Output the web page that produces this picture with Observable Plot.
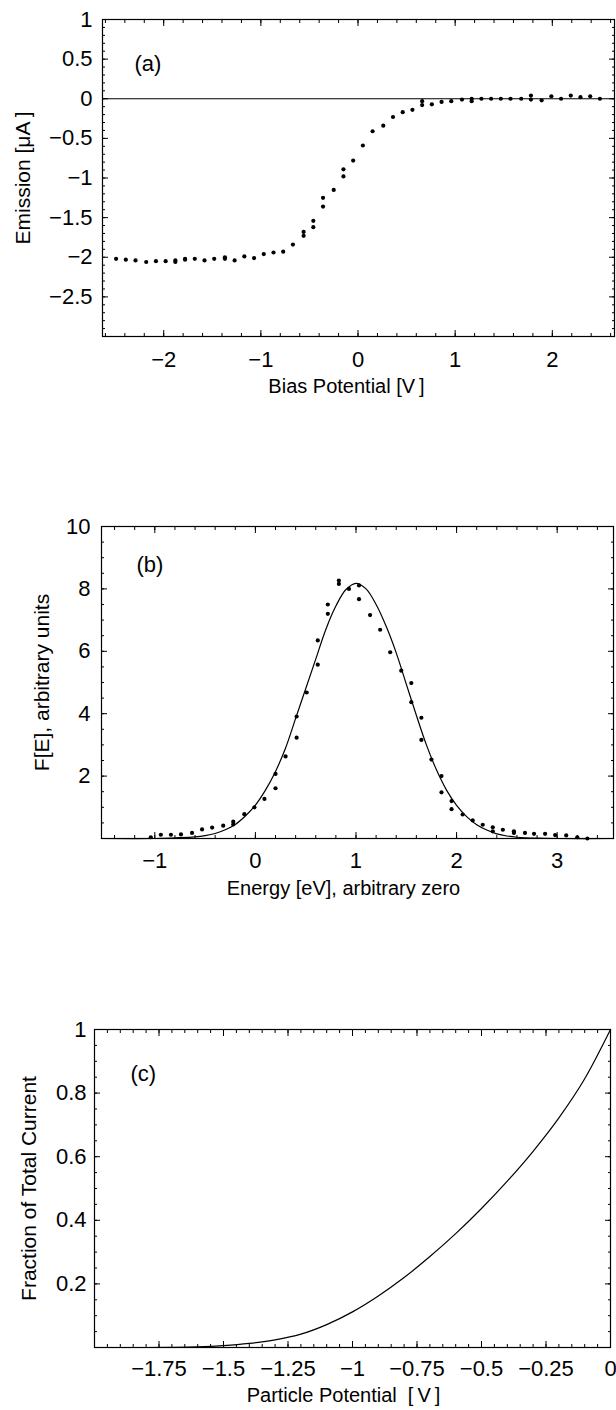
<!DOCTYPE html>
<html><head><meta charset="utf-8">
<script src="https://cdn.jsdelivr.net/npm/d3@7"></script>
<script src="https://cdn.jsdelivr.net/npm/@observablehq/plot@0.6"></script>
<style>
html,body{margin:0;padding:0;background:#fff;}
body{width:616px;height:1410px;position:relative;overflow:hidden;}
.panel{position:absolute;left:0;}
</style></head><body>
<div id="pa" class="panel" style="top:0px"></div>
<div id="pb" class="panel" style="top:460px"></div>
<div id="pc" class="panel" style="top:960px"></div>
<script>
// ---- Panel (a): emission vs bias potential ----
const biasX = [-2.49,-2.39,-2.29,-2.18,-2.08,-1.98,-1.88,-1.88,-1.78,-1.78,-1.68,-1.58,-1.48,-1.37,-1.37,-1.27,-1.17,-1.07,-0.97,-0.87,-0.77,-0.67,-0.56,-0.56,-0.46,-0.46,-0.36,-0.36,-0.25,-0.15,-0.15,-0.05,0.05,0.15,0.26,0.36,0.46,0.56,0.66,0.66,0.76,0.86,0.96,1.07,1.17,1.17,1.27,1.37,1.47,1.57,1.68,1.78,1.78,1.89,1.99,2.09,2.19,2.29,2.39,2.49];
const emission = [-2.02,-2.03,-2.04,-2.06,-2.05,-2.05,-2.04,-2.06,-2.03,-2.02,-2.02,-2.04,-2.02,-2.00,-2.02,-2.04,-1.99,-2.01,-1.96,-1.94,-1.93,-1.84,-1.68,-1.73,-1.54,-1.62,-1.25,-1.36,-1.15,-0.89,-0.98,-0.78,-0.59,-0.41,-0.34,-0.23,-0.17,-0.14,-0.03,-0.08,-0.07,-0.04,-0.03,-0.01,0.00,-0.03,0.00,0.00,0.00,0.00,0.00,0.04,-0.01,-0.02,0.03,0.00,0.04,0.02,0.03,0.00];
const aXTicks = [-2,-1,0,1,2];
const aYTicks = [-2.5,-2,-1.5,-1,-0.5,0,0.5,1];

// ---- Panel (b): energy distribution, measured points and fit ----
const energyX = [-1.04,-0.94,-0.84,-0.74,-0.63,-0.53,-0.43,-0.32,-0.22,-0.22,-0.11,-0.01,0.09,0.20,0.20,0.30,0.41,0.41,0.51,0.62,0.62,0.72,0.72,0.83,0.83,0.93,1.03,1.03,1.14,1.24,1.34,1.45,1.55,1.55,1.65,1.65,1.75,1.85,1.85,1.95,1.95,2.06,2.16,2.26,2.36,2.36,2.46,2.57,2.57,2.68,2.77,2.88,2.98,3.09,3.20,3.30];
const energyF = [0.04,0.12,0.12,0.13,0.18,0.29,0.35,0.41,0.54,0.45,0.78,1.00,1.27,1.61,2.07,2.63,3.23,3.91,4.68,5.57,6.35,7.20,7.50,8.27,8.16,8.00,8.11,7.67,7.16,6.69,5.97,5.38,4.98,4.37,3.87,3.16,2.53,2.00,1.48,1.20,0.94,0.77,0.58,0.44,0.36,0.23,0.28,0.23,0.18,0.18,0.15,0.15,0.11,0.10,0.04,0.00];
const fitX = [-1.53,-1.0,-0.8,-0.6,-0.5,-0.4,-0.3,-0.2,-0.1,0.0,0.1,0.2,0.3,0.4,0.5,0.6,0.7,0.8,0.9,1.0,1.1,1.2,1.3,1.4,1.5,1.6,1.7,1.8,1.9,2.0,2.1,2.2,2.3,2.4,2.5,2.6,2.8,3.0,3.56];
const fitF = [0,0.00,0.02,0.05,0.09,0.16,0.28,0.45,0.72,1.07,1.55,2.15,2.90,3.85,4.80,5.75,6.70,7.45,7.98,8.18,8.00,7.50,6.80,5.95,4.95,3.95,3.00,2.20,1.55,1.06,0.70,0.44,0.27,0.15,0.08,0.04,0.01,0,0];
const bXTicks = [-1,0,1,2,3];
const bYTicks = [2,4,6,8,10];

// ---- Panel (c): fraction of total current vs particle potential ----
const potentialX = [-2.0,-1.8,-1.7,-1.6,-1.5,-1.4,-1.3,-1.2,-1.1,-1.0,-0.9,-0.8,-0.7,-0.6,-0.5,-0.4,-0.3,-0.2,-0.1,0];
const fraction = [0,0,0.0005,0.002,0.006,0.013,0.024,0.042,0.072,0.112,0.162,0.220,0.286,0.358,0.437,0.523,0.617,0.722,0.845,1.0];
const cXTicks = [-1.75,-1.5,-1.25,-1,-0.75,-0.5,-0.25,0];
const cYTicks = [0.2,0.4,0.6,0.8,1];

const FONT = "'Liberation Sans', Arial, Helvetica, sans-serif";
const fmt = d => (d < 0 ? "\u2212" + String(Math.abs(d)) : String(d));

function frameMarks(o) {
  const m = [];
  for (const anchor of ["bottom", "top"]) {
    m.push(Plot.axisX({anchor, ticks: o.xMinor, tickSize: -3, fill: "none", label: null}));
    m.push(Plot.axisX({anchor, ticks: o.xMajor, tickSize: -6, fill: "none", label: null}));
  }
  for (const anchor of ["left", "right"]) {
    m.push(Plot.axisY({anchor, ticks: o.yMinor, tickSize: -3, fill: "none", label: null}));
    m.push(Plot.axisY({anchor, ticks: o.yMajor, tickSize: -6, fill: "none", label: null}));
  }
  m.push(Plot.axisX({anchor: "bottom", ticks: o.xLabels, tickSize: 0, tickPadding: o.xPad, tickFormat: fmt, label: null, fontSize: 22}));
  m.push(Plot.axisY({anchor: "left", ticks: o.yLabels, tickSize: 0, tickPadding: o.yPad, tickFormat: fmt, label: null, fontSize: 22}));
  m.push(Plot.frame({stroke: "black", strokeWidth: 1.2}));
  m.push(Plot.text([o.xTitle], {text: d => d, frameAnchor: "bottom", textAnchor: "middle", lineAnchor: "middle", dy: o.xTitleDy, dx: o.xTitleDx, fontSize: 20}));
  m.push(Plot.text([o.yTitle], {text: d => d, frameAnchor: "left", textAnchor: "middle", lineAnchor: "middle", rotate: -90, dx: o.yTitleDx, fontSize: 21}));
  m.push(Plot.text([o.tag], {text: d => d, frameAnchor: "top-left", textAnchor: "start", lineAnchor: "middle", dx: o.tagDx, dy: o.tagDy, fontSize: 22}));
  return m;
}

function minor(domain, step) {
  const lo = Math.ceil(domain[0] / step - 1e-9), hi = Math.floor(domain[1] / step + 1e-9);
  return d3.range(lo, hi + 1).map(i => +(i * step).toFixed(6));
}

const baseStyle = {fontFamily: FONT, fontSize: "22px", color: "black", background: "white"};

// Panel (a)
{
  const xd = [-2.63, 2.64], yd = [-3.0, 1];
  const chart = Plot.plot({
    width: 616, height: 410,
    marginTop: 19, marginBottom: 74, marginLeft: 102, marginRight: 2,
    style: baseStyle,
    x: {domain: xd}, y: {domain: yd},
    marks: [
      Plot.ruleY([0], {stroke: "black", strokeWidth: 1.2}),
      Plot.dot(biasX.map((x, i) => ({x, y: emission[i]})), {x: "x", y: "y", r: 2.1, fill: "black", stroke: "none"}),
      ...frameMarks({
        xMajor: aXTicks, xMinor: minor(xd, 0.2), yMajor: aYTicks, yMinor: minor(yd, 0.1),
        xLabels: aXTicks, yLabels: aYTicks, xPad: 15, yPad: 10,
        xTitle: "Bias Potential [V\u2009]", xTitleDx: -12, xTitleDy: 50,
        yTitle: "Emission [\u03bcA\u2009]", yTitleDx: -79,
        tag: "(a)", tagDx: 32, tagDy: 44
      })
    ]
  });
  document.getElementById("pa").append(chart);
}

// Panel (b)
{
  const xd = [-1.53, 3.56], yd = [0, 10];
  const chart = Plot.plot({
    width: 616, height: 460,
    marginTop: 66, marginBottom: 82, marginLeft: 101, marginRight: 3,
    style: baseStyle,
    x: {domain: xd}, y: {domain: yd},
    marks: [
      Plot.line(fitX.map((x, i) => ({x, y: fitF[i]})), {x: "x", y: "y", stroke: "black", strokeWidth: 1.2, curve: "catmull-rom"}),
      Plot.dot(energyX.map((x, i) => ({x, y: energyF[i]})), {x: "x", y: "y", r: 2.1, fill: "black", stroke: "none"}),
      ...frameMarks({
        xMajor: bXTicks, xMinor: minor(xd, 0.2), yMajor: bYTicks, yMinor: minor(yd, 0.5),
        xLabels: bXTicks, yLabels: bYTicks, xPad: 14, yPad: 11,
        xTitle: "Energy [eV], arbitrary zero", xTitleDx: -14, xTitleDy: 50,
        yTitle: "F[E], arbitrary units", yTitleDx: -59,
        tag: "(b)", tagDx: 35, tagDy: 38
      })
    ]
  });
  document.getElementById("pb").append(chart);
}

// Panel (c)
{
  const xd = [-2, 0], yd = [0, 1];
  const chart = Plot.plot({
    width: 616, height: 450,
    marginTop: 69, marginBottom: 63, marginLeft: 94, marginRight: 6,
    style: baseStyle,
    x: {domain: xd}, y: {domain: yd},
    marks: [
      Plot.line(potentialX.map((x, i) => ({x, y: fraction[i]})), {x: "x", y: "y", stroke: "black", strokeWidth: 1.2, curve: "monotone-x"}),
      ...frameMarks({
        xMajor: cXTicks, xMinor: minor(xd, 0.05), yMajor: cYTicks, yMinor: minor(yd, 0.05),
        xLabels: cXTicks, yLabels: cYTicks, xPad: 13, yPad: 8,
        xTitle: "Particle Potential\u00a0\u00a0[\u2009V\u2009]", xTitleDx: -9, xTitleDy: 48,
        yTitle: "Fraction of Total Current", yTitleDx: -65,
        tag: "(c)", tagDx: 36, tagDy: 44
      })
    ]
  });
  document.getElementById("pc").append(chart);
}
</script></body></html>
